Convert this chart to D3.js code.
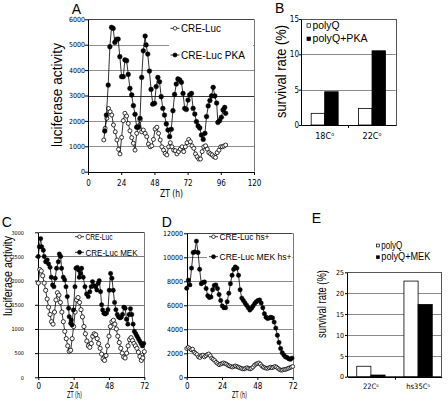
<!DOCTYPE html>
<html><head><meta charset="utf-8">
<script src="https://cdn.jsdelivr.net/npm/d3@7"></script>
<style>body{margin:0;background:#fff}svg{display:block}</style>
</head><body>
<svg id="c" width="448" height="402"></svg>
<script>
// ---------- DATA ----------
const aTimeTicks=[0,24,48,72,96,120];
const aValueTicks=[0,1000,2000,3000,4000,5000,6000];
const aSeriesNames=["CRE-Luc","CRE-Luc PKA"];
const aCreLuc=[[11.4,1250],[12.4,1710],[13.6,2100],[14.8,2490],[16,2360],[17.2,2230],[18.4,1840],[19.7,1570],[20.9,1250],[22.1,880],[23.1,700],[24.3,1350],[25.5,2010],[26.7,2300],[27.9,2190],[29.1,1900],[30.3,1610],[31.6,1340],[32.8,1120],[34,850],[35.2,1510],[36.4,1800],[37.6,2030],[38.8,1570],[40,1640],[41.3,1510],[42.5,1380],[43.7,1090],[44.9,980],[46.1,1020],[47.3,1270],[48.5,1680],[49.8,1750],[51,1510],[52.2,1250],[53.4,980],[54.6,850],[55.8,720],[57,660],[58.3,980],[59.5,1140],[60.7,980],[61.9,850],[63.1,830],[64.3,700],[65.5,790],[66.7,890],[68,980],[69.2,790],[70.4,980],[71.6,1140],[72.8,1270],[74,1180],[75.2,1020],[76.5,920],[77.7,700],[78.9,590],[80.1,500],[81.3,500],[82.5,790],[83.7,980],[85,1020],[86.2,890],[87.4,750],[88.6,700],[89.8,660],[91,590],[92.2,560],[93.4,750],[94.7,850],[95.9,980],[97.1,980],[98.3,1010],[99.5,1050]];
const aCreLucPKA=[[12.1,1600],[13.3,2230],[14.6,3410],[15.8,4920],[17,5680],[18.2,5640],[19.4,5090],[20.6,5210],[21.8,5220],[23,4530],[24.3,3740],[25.5,3740],[26.7,4400],[27.9,4370],[29.1,3830],[30.3,3280],[31.6,3020],[32.8,2600],[34,2260],[35.2,1750],[36.4,1750],[37.6,2100],[38.8,3710],[40,4760],[41.3,5340],[42,4990],[43.2,4630],[44.4,3960],[45.6,3240],[46.8,2660],[48.1,2690],[49.3,3350],[50.5,3710],[51.7,3540],[52.9,2950],[54.1,2490],[55.3,2230],[56.6,1880],[57.8,1640],[59,1380],[60.2,1670],[61.4,2400],[62.6,3040],[63.8,3450],[65,3650],[66.3,3610],[67.5,3520],[68.7,3080],[69.9,2490],[71.1,2450],[72.3,2820],[73.5,3020],[74.8,3080],[76,2490],[77.2,2270],[78.4,1970],[79.6,1800],[80.8,1720],[82,1440],[83.3,1270],[84.5,1510],[85.7,2170],[86.9,2590],[88.1,2800],[89.3,2980],[90.5,3320],[91.7,2980],[93,2700],[93.9,1940],[95.1,2010],[96.4,2140],[97.6,2430],[98.8,2530],[99.5,2300]];

const bCategories=["18C","22C"];
const bSeriesNames=["polyQ","polyQ+PKA"];
const bPolyQ=[1.65,2.35];
const bPolyQPKA=[4.7,10.5];
const bTicks=[0,5,10,15];

const cTimeTicks=[0,24,48,72];
const cValueTicks=[0,500,1000,1500,2000,2500,3000];
const cSeriesNames=["CRE-Luc","CRE-Luc MEK"];
const cCreLuc=[[0,1950],[1,2230],[2,2200],[3,2100],[4,1950],[5,1800],[6,1620],[7,1450],[8,1300],[9,1150],[10,1100],[11,1350],[12,1600],[13,1750],[14,1700],[15,1550],[16,1350],[17,1150],[18,950],[19,800],[20,650],[21,540],[22,560],[23,800],[24,1050],[25,1350],[26,1600],[27,1650],[28,1550],[29,1400],[30,1250],[31,1050],[32,900],[33,750],[34,650],[35,620],[36,700],[37,850],[38,900],[39,880],[40,800],[41,700],[42,600],[43,480],[44,380],[45,350],[46,450],[47,650],[48,850],[49,1050],[50,1150],[51,1180],[52,1100],[53,1000],[54,850],[55,720],[56,600],[57,500],[58,420],[59,400],[60,500],[61,650],[62,780],[63,820],[64,760],[65,700],[66,650],[67,600],[68,520],[69,430],[70,350],[71,400],[72,530]];
const cCreLucMEK=[[0,2500],[0.7,2700],[1.6,2870],[2.3,2700],[3.4,2630],[4,2500],[5,2390],[6.1,2430],[7,2345],[8,2275],[8.8,2070],[9.7,1910],[10.6,1875],[11.5,2050],[12.4,2255],[13.6,2390],[14.3,2550],[15.2,2500],[15.8,2255],[17,2070],[17.9,2015],[18.8,1875],[19.7,1670],[20.6,1430],[21,1255],[22,1117],[22.4,1186],[22.9,1083],[23.8,1393],[24.9,1875],[25.6,2255],[26.5,2275],[27.4,2220],[27.8,2070],[28.7,2150],[29.4,2255],[30.5,2070],[31.7,1875],[32.8,1724],[33.9,1670],[35,1770],[35.9,1875],[36.8,1980],[37.9,1897],[38.8,1875],[39.8,1807],[40.7,1945],[41.4,2000],[42.3,1772],[43,1500],[43.7,1393],[44.6,1324],[45.5,1310],[46.4,1330],[47.3,1400],[48.2,1800],[49.1,2150],[50,2050],[50.9,1800],[51.8,1550],[52.7,1400],[53.6,1300],[54.5,1250],[55.4,1230],[56.3,1240],[57.2,1300],[58.1,1450],[59,1430],[59.9,1200],[60.8,1100],[61.7,1300],[62.6,1420],[63.5,1300],[64.4,1100],[65.3,950],[66.2,900],[67.1,850],[68,800],[68.9,750],[69.8,700],[70.7,650],[71.6,700]];

const dTimeTicks=[0,24,48,72];
const dValueTicks=[0,2000,4000,6000,8000,10000,12000];
const dSeriesNames=["CRE-Luc hs+","CRE-Luc MEK hs+"];
const dCreLuc=[[0,2400],[1,2500],[2,2400],[3,2300],[4,2350],[5,2100],[6,2000],[7,1900],[8,1700],[9,1650],[10,1800],[11,1850],[12,1700],[13,1800],[14,1900],[15,1950],[16,1800],[17,1600],[18,1500],[19,1400],[20,1250],[21,1150],[22,1050],[23,1100],[24,1150],[25,1200],[26,1150],[27,1100],[28,1000],[29,950],[30,900],[31,850],[32,900],[33,950],[34,900],[35,850],[36,800],[37,750],[38,700],[39,700],[40,750],[41,800],[42,750],[43,700],[44,750],[45,850],[46,1000],[47,1100],[48,1150],[49,1200],[50,1100],[51,950],[52,850],[53,800],[54,750],[55,750],[56,800],[57,850],[58,800],[59,850],[60,900],[61,850],[62,750],[63,650],[64,600],[65,600],[66,650],[67,650],[68,700],[69,750],[70,800],[71,850],[72,900]];
const dCreLucMEK=[[0,7420],[1.1,8100],[2.2,7700],[3.3,9100],[4.4,10400],[5.5,10450],[6.6,11350],[7.7,10400],[8.8,9000],[9.9,7800],[11,7900],[12.1,7950],[13.2,7400],[14.3,6800],[15.4,6650],[16.5,6700],[17.6,7300],[18.7,7650],[19.8,7700],[20.9,7400],[22,6900],[23.1,6400],[24.2,5950],[25.3,5800],[26.4,5800],[27.5,6300],[28.6,7000],[29.7,7800],[30.8,8500],[31.9,9000],[33,9200],[34.1,9100],[35.2,8500],[36.3,7300],[37.4,6600],[38.5,6400],[39.6,6200],[40.7,6000],[41.8,5800],[42.9,5600],[44,5750],[45.1,5950],[46.2,6150],[47.3,6300],[48.4,6400],[49.5,6450],[50.6,6200],[51.7,5800],[52.8,5300],[53.9,5000],[55,4900],[56.1,4950],[57.2,5000],[58.3,4950],[59.4,4600],[60.5,4100],[61.6,3500],[62.7,2900],[63.8,2400],[64.9,2050],[66,1850],[67.1,1700],[68.2,1650],[69.3,1550],[70.4,1500],[71.5,1600]];

const eCategories=["22C","hs35C"];
const eSeriesNames=["polyQ","polyQ+MEK"];
const ePolyQ=[2.5,22.9];
const ePolyQMEK=[0.4,17.3];
const eTicks=[0,5,10,15,20,25];

// ---------- DRAWING ----------
const svg=d3.select("#c");
const NARROW="'Liberation Sans Narrow','Arial Narrow','DejaVu Sans Condensed',sans-serif";
const SANS="'Liberation Sans',Arial,Helvetica,sans-serif";

function letter(t,x,y){svg.append("text").attr("x",x).attr("y",y).text(t).attr("font-family",SANS).attr("font-size",14);}
function vtext(str,x,y,size,len){
  svg.append("text").attr("transform",`translate(${x},${y}) rotate(-90)`).attr("text-anchor","middle")
    .attr("font-family",SANS).attr("font-size",size).attr("textLength",len).attr("lengthAdjust","spacingAndGlyphs").text(str);
}
function htext(str,x,y,size,len,fam,anchor){
  const t=svg.append("text").attr("x",x).attr("y",y).attr("font-family",fam||SANS).attr("font-size",size)
    .attr("text-anchor",anchor||"start").text(str);
  if(len) t.attr("textLength",len).attr("lengthAdjust","spacingAndGlyphs");
  return t;
}
function styleAxis(g,size){
  g.selectAll("text").attr("font-family",NARROW).attr("font-size",size).attr("fill","#000");
  g.selectAll("line,path").attr("stroke","#000");
}

function linePanel(o){
  const x=d3.scaleLinear().domain(o.xDom).range([o.left,o.right]);
  const y=d3.scaleLinear().domain(o.yDom).range([o.bottom,o.top]);
  const g=svg.append("g");
  g.selectAll("line.grid").data(o.yTicks.filter(v=>v>o.yDom[0]&&v<o.yDom[1])).join("line").attr("class","grid")
    .attr("x1",o.left).attr("x2",o.right).attr("y1",d=>Math.round(y(d))+0.5).attr("y2",d=>Math.round(y(d))+0.5)
    .attr("stroke",d=>(o.dark||[]).includes(d)?"#333":o.gridColor).attr("stroke-width",1);
  g.append("line").attr("x1",o.left).attr("x2",x(o.xDom[1])).attr("y1",Math.round(y(o.yDom[1]))+0.5).attr("y2",Math.round(y(o.yDom[1]))+0.5).attr("stroke","#444");
  g.append("line").attr("x1",Math.round(x(o.xDom[1]))+0.5).attr("x2",Math.round(x(o.xDom[1]))+0.5).attr("y1",y(o.yDom[1])).attr("y2",y(o.yDom[0])).attr("stroke","#777");
  if(o.legBg) g.append("rect").attr("x",o.legBg[0]).attr("y",o.legBg[1]).attr("width",o.legBg[2]).attr("height",o.legBg[3]).attr("fill","#fff");
  const ay=g.append("g").attr("transform",`translate(${Math.round(o.left)},0)`)
    .call(d3.axisLeft(y).tickValues(o.yTicks).tickSize(3).tickSizeOuter(0).tickPadding(o.yPad).tickFormat(d=>String(d)));
  styleAxis(ay,o.yFont);
  const ax=g.append("g").attr("transform",`translate(0,${Math.round(o.bottom)})`)
    .call(d3.axisBottom(x).tickValues(o.xTicks).tickSize(3).tickSizeOuter(0).tickPadding(o.xPad).tickFormat(d=>String(d)));
  styleAxis(ax,o.xFont);
  const line=d3.line().x(d=>x(d[0])).y(d=>y(d[1]));
  o.series.forEach(s=>{
    g.append("path").datum(s.data).attr("d",line).attr("fill","none").attr("stroke","#000").attr("stroke-width",0.8);
    g.selectAll(null).data(s.data).join("circle").attr("cx",d=>x(d[0])).attr("cy",d=>y(d[1])).attr("r",s.r)
      .attr("fill",s.filled?"#000":"#fff").attr("stroke","#000").attr("stroke-width",s.filled?0.4:0.8);
  });
  // legend
  o.series.forEach((s,i)=>{
    const ly=o.leg.ys[i], lx=o.leg.x;
    g.append("line").attr("x1",lx).attr("x2",lx+9).attr("y1",ly).attr("y2",ly).attr("stroke","#000").attr("stroke-width",0.8);
    g.append("circle").attr("cx",lx+4.5).attr("cy",ly).attr("r",s.filled?2:1.8).attr("fill",s.filled?"#000":"#fff").attr("stroke","#000").attr("stroke-width",0.7);
    htext(o.names[i],lx+10.5,ly+o.leg.size*0.36,o.leg.size,o.leg.lens[i],o.leg.fam);
  });
  htext("ZT (h)",o.xt[0],o.xt[1],o.xt[2],o.xt[3],NARROW,"middle");
}

function barPanel(o){
  const x=d3.scaleBand().domain(o.cats).range([o.left,o.right]).paddingInner(o.pin).paddingOuter(o.pout);
  const xs=d3.scaleBand().domain(d3.range(o.values.length)).range([0,x.bandwidth()]);
  const y=d3.scaleLinear().domain(o.yDom).range([o.bottom,o.top]);
  const g=svg.append("g");
  g.selectAll("line.grid").data(o.yTicks.filter(v=>v>o.yDom[0]&&v<o.yDom[1])).join("line")
    .attr("x1",o.left).attr("x2",o.right).attr("y1",d=>Math.round(y(d))+0.5).attr("y2",d=>Math.round(y(d))+0.5)
    .attr("stroke","#8a8a8a");
  g.append("rect").attr("x",Math.round(o.left)+0.5).attr("y",Math.round(o.top)+0.5).attr("width",Math.round(o.right-o.left))
    .attr("height",Math.round(o.bottom-o.top)).attr("fill","none").attr("stroke","#555");
  o.values.forEach((vals,i)=>{
    g.selectAll(null).data(vals).join("rect")
      .attr("x",(d,j)=>x(o.cats[j])+xs(i)).attr("y",d=>y(d)).attr("width",xs.bandwidth()).attr("height",d=>y(0)-y(d))
      .attr("fill",i?"#000":"#fff").attr("stroke","#000").attr("stroke-width",0.8);
  });
  const ay=g.append("g").attr("transform",`translate(${Math.round(o.left)},0)`)
    .call(d3.axisLeft(y).tickValues(o.yTicks).tickSize(2).tickSizeOuter(0).tickPadding(o.yPad).tickFormat(d=>String(d)));
  styleAxis(ay,o.yFont);
  const ax=g.append("g").attr("transform",`translate(0,${Math.round(o.bottom)})`)
    .call(d3.axisBottom(x).tickSize(0).tickSizeOuter(0).tickPadding(o.xPad).tickFormat(d=>d));
  styleAxis(ax,o.xFont);
  ax.selectAll(".tick text").append("tspan").attr("dy",-o.xFont*0.35).attr("font-size",o.xFont*0.6).text("o");
  const mid=(x(o.cats[0])+x.bandwidth()+x(o.cats[1]))/2;
  g.append("line").attr("x1",Math.round(mid)+0.5).attr("x2",Math.round(mid)+0.5).attr("y1",o.bottom).attr("y2",o.bottom+3).attr("stroke","#000");
  // legend
  o.names.forEach((n,i)=>{
    const ly=o.leg.ys[i];
    g.append("rect").attr("x",o.leg.x+0.5).attr("y",ly-o.leg.sq/2+0.5).attr("width",o.leg.sq).attr("height",o.leg.sq)
      .attr("fill",i?"#000":"#fff").attr("stroke","#000").attr("stroke-width",0.7);
    htext(n,o.leg.x+o.leg.sq+2.5,ly+o.leg.size*0.36,o.leg.size,o.leg.lens[i]);
  });
  vtext("survival rate (%)",o.yt[0],o.yt[1],o.yt[2],o.yt[3]);
}

// Panel A
linePanel({left:88,right:254,top:19.3,bottom:171.7,xDom:[0,120],yDom:[0,6000],xTicks:aTimeTicks,yTicks:aValueTicks,
  gridColor:"#8f8f8f",dark:[3000],yPad:0,xPad:5,yFont:7,xFont:8,legBg:[169,20.5,84,40],
  series:[{data:aCreLuc,filled:false,r:2},{data:aCreLucPKA,filled:true,r:2.4}],names:aSeriesNames,
  leg:{x:170.5,ys:[28.3,55],size:10.5,lens:[40,64],fam:SANS},xt:[171.5,197,10,23]});
vtext("luciferase activity",62,95,14,104);
letter("A",71.7,13.5);

// Panel B
barPanel({cats:bCategories,values:[bPolyQ,bPolyQPKA],names:bSeriesNames,left:301,right:395.7,top:19,bottom:125,
  pin:0.43,pout:0.215,yDom:[0,15],yTicks:bTicks,yPad:0,xPad:8,yFont:8,xFont:9,
  leg:{x:306.5,ys:[25,38.3],sq:3.5,size:11,lens:[27,55]},yt:[285.5,71.5,14,93]});
letter("B",275,13.3);

// Panel C
linePanel({left:38.3,right:144.3,top:232.3,bottom:377.3,xDom:[0,72],yDom:[0,3000],xTicks:cTimeTicks,yTicks:cValueTicks,
  gridColor:"#7a7a7a",yPad:11,xPad:3,yFont:5.5,xFont:8,
  series:[{data:cCreLuc,filled:false,r:2.1},{data:cCreLucMEK,filled:true,r:2.2}],names:cSeriesNames,
  leg:{x:75,ys:[236.7,252.3],size:9,lens:[27,52],fam:SANS},xt:[74.5,398,9,15]});
vtext("luciferase activity",11.5,276,13,80);
letter("C",1.7,226.7);

// Panel D
linePanel({left:186.7,right:292.7,top:233.3,bottom:377.3,xDom:[0,72],yDom:[0,12000],xTicks:dTimeTicks,yTicks:dValueTicks,
  gridColor:"#8a8a8a",yPad:1,xPad:3,yFont:7,xFont:8,legBg:[207,250,85,13],
  series:[{data:dCreLuc,filled:false,r:1.9},{data:dCreLucMEK,filled:true,r:2.2}],names:dSeriesNames,
  leg:{x:209,ys:[236.7,256.7],size:9.5,lens:[50,72],fam:SANS},xt:[239.5,398,9,15]});
letter("D",161.7,226.7);

// Panel E
barPanel({cats:eCategories,values:[ePolyQ,ePolyQMEK],names:eSeriesNames,left:347.3,right:441.7,top:272.3,bottom:376.7,
  pin:0.4,pout:0.2,yDom:[0,25],yTicks:eTicks,yPad:1,xPad:7,yFont:7,xFont:7.5,
  leg:{x:376,ys:[245,256.7],sq:2.8,size:10,lens:[21,49]},yt:[325.5,304,13,68]});
letter("E",311.7,223.3);
</script>
</body></html>
